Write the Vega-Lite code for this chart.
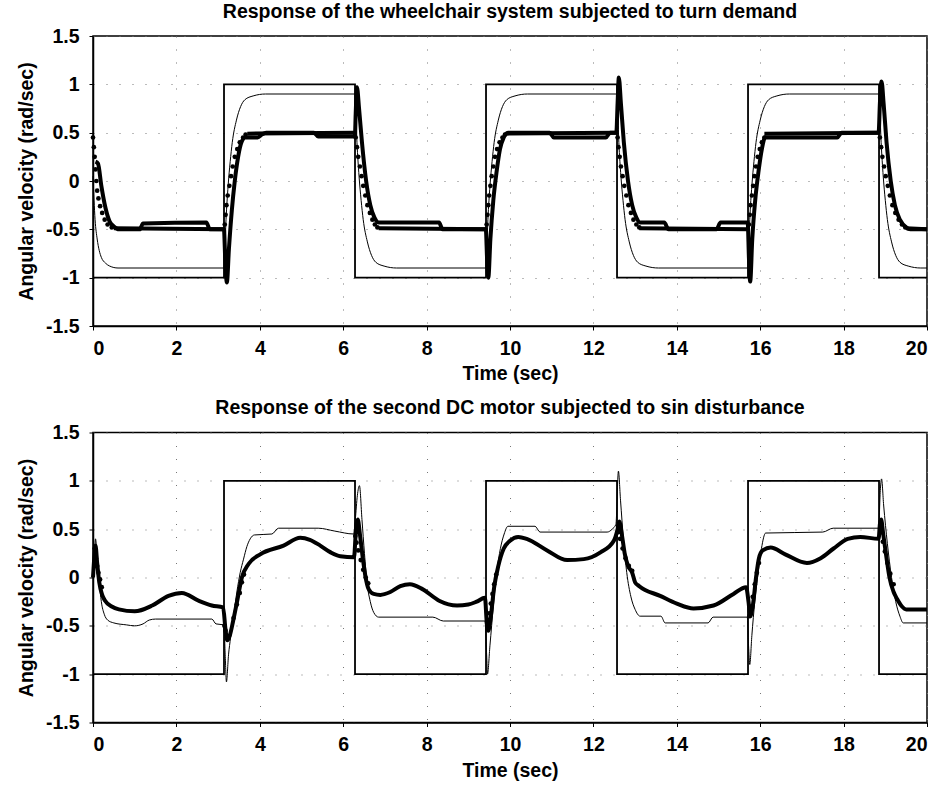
{
  "$schema": "https://vega.github.io/schema/vega-lite/v6.json",
  "padding": {"left": 15, "top": 0, "right": 4, "bottom": 0},
  "background": "white",
  "config": {
    "font": "Liberation Sans",
    "view": {"stroke": "black", "strokeWidth": 1.5},
    "axis": {"labelFont": "Liberation Sans", "labelFontWeight": "bold", "labelFontSize": 19.5, "labelColor": "black", "titleFont": "Liberation Sans", "titleFontWeight": "bold", "titleFontSize": 19.5, "titleColor": "black", "domainColor": "black", "domainWidth": 1.5, "tickColor": "black", "tickSize": 4, "tickWidth": 1, "gridColor": "#777777", "gridDash": [1, 12], "gridWidth": 1},
    "title": {"font": "Liberation Sans", "fontWeight": "bold", "fontSize": 19.5, "color": "black", "offset": 4},
    "concat": {"spacing": 12.5}
  },
  "datasets": {
    "sq": [{"t":0,"v":-1},{"t":3.1416,"v":-1},{"t":3.1417,"v":1},{"t":6.2832,"v":1},{"t":6.2833,"v":-1},{"t":9.4248,"v":-1},{"t":9.4249,"v":1},{"t":12.5664,"v":1},{"t":12.5665,"v":-1},{"t":15.708,"v":-1},{"t":15.7081,"v":1},{"t":18.8496,"v":1},{"t":18.8497,"v":-1},{"t":20,"v":-1}],
    "top_thin": [{"t":0,"v":0.05},{"t":0.05,"v":-0.4},{"t":0.1,"v":-0.6},{"t":0.15,"v":-0.72},{"t":0.2,"v":-0.79},{"t":0.3,"v":-0.85},{"t":0.4,"v":-0.88},{"t":0.6,"v":-0.9},{"t":3.1416,"v":-0.9},
      {"t":3.19,"v":-0.4},{"t":3.24,"v":-0.05},{"t":3.29,"v":0.2},{"t":3.34,"v":0.4},{"t":3.44,"v":0.63},{"t":3.54,"v":0.77},{"t":3.64,"v":0.84},{"t":3.84,"v":0.88},{"t":4.14,"v":0.9},{"t":6.2832,"v":0.9},
      {"t":6.33,"v":0.4},{"t":6.38,"v":0.05},{"t":6.43,"v":-0.2},{"t":6.48,"v":-0.4},{"t":6.58,"v":-0.63},{"t":6.68,"v":-0.77},{"t":6.78,"v":-0.84},{"t":6.98,"v":-0.88},{"t":7.28,"v":-0.9},{"t":9.4248,"v":-0.9},
      {"t":9.47,"v":-0.4},{"t":9.52,"v":-0.05},{"t":9.57,"v":0.2},{"t":9.62,"v":0.4},{"t":9.72,"v":0.63},{"t":9.82,"v":0.77},{"t":9.92,"v":0.84},{"t":10.12,"v":0.88},{"t":10.42,"v":0.9},{"t":12.5664,"v":0.9},
      {"t":12.61,"v":0.4},{"t":12.66,"v":0.05},{"t":12.71,"v":-0.2},{"t":12.76,"v":-0.4},{"t":12.86,"v":-0.63},{"t":12.96,"v":-0.77},{"t":13.06,"v":-0.84},{"t":13.26,"v":-0.88},{"t":13.56,"v":-0.9},{"t":15.708,"v":-0.9},
      {"t":15.75,"v":-0.4},{"t":15.8,"v":-0.05},{"t":15.85,"v":0.2},{"t":15.9,"v":0.4},{"t":16.0,"v":0.63},{"t":16.1,"v":0.77},{"t":16.2,"v":0.84},{"t":16.4,"v":0.88},{"t":16.7,"v":0.9},{"t":18.8496,"v":0.9},
      {"t":18.9,"v":0.4},{"t":18.95,"v":0.05},{"t":19.0,"v":-0.2},{"t":19.05,"v":-0.4},{"t":19.15,"v":-0.63},{"t":19.25,"v":-0.77},{"t":19.35,"v":-0.84},{"t":19.55,"v":-0.88},{"t":19.85,"v":-0.9},{"t":20,"v":-0.9}],
    "top_thickA": [{"t":0.06,"v":0.2},{"t":0.12,"v":0.18},{"t":0.2,"v":-0.05},{"t":0.3,"v":-0.28},{"t":0.4,"v":-0.42},{"t":0.5,"v":-0.47},{"t":0.62,"v":-0.5},{"t":1.12,"v":-0.5},{"t":1.2,"v":-0.44},{"t":2.72,"v":-0.43},{"t":2.8,"v":-0.5},{"t":3.14,"v":-0.5},
      {"t":3.17,"v":-0.8},{"t":3.21,"v":-1.05},{"t":3.26,"v":-0.7},{"t":3.33,"v":-0.3},{"t":3.4,"v":0.0},{"t":3.48,"v":0.25},{"t":3.56,"v":0.4},{"t":3.65,"v":0.45},{"t":3.95,"v":0.45},{"t":4.05,"v":0.48},{"t":4.15,"v":0.5},{"t":5.3,"v":0.5},{"t":5.4,"v":0.46},{"t":6.28,"v":0.46},
      {"t":6.3,"v":0.7},{"t":6.33,"v":0.97},{"t":6.38,"v":0.75},{"t":6.45,"v":0.4},{"t":6.55,"v":0.0},{"t":6.65,"v":-0.25},{"t":6.75,"v":-0.38},{"t":6.85,"v":-0.43},{"t":8.3,"v":-0.43},{"t":8.38,"v":-0.5},{"t":9.42,"v":-0.5},
      {"t":9.45,"v":-0.8},{"t":9.48,"v":-1.0},{"t":9.53,"v":-0.6},{"t":9.6,"v":-0.2},{"t":9.68,"v":0.1},{"t":9.76,"v":0.33},{"t":9.85,"v":0.45},{"t":9.95,"v":0.5},{"t":10.95,"v":0.5},{"t":11.05,"v":0.45},{"t":12.3,"v":0.45},{"t":12.4,"v":0.5},{"t":12.55,"v":0.5},
      {"t":12.58,"v":0.8},{"t":12.61,"v":1.07},{"t":12.66,"v":0.8},{"t":12.73,"v":0.4},{"t":12.83,"v":0.0},{"t":12.93,"v":-0.25},{"t":13.03,"v":-0.38},{"t":13.12,"v":-0.43},{"t":13.7,"v":-0.43},{"t":13.8,"v":-0.5},{"t":14.95,"v":-0.5},{"t":15.05,"v":-0.43},{"t":15.7,"v":-0.43},
      {"t":15.73,"v":-0.8},{"t":15.76,"v":-1.04},{"t":15.81,"v":-0.6},{"t":15.88,"v":-0.2},{"t":15.96,"v":0.1},{"t":16.04,"v":0.33},{"t":16.12,"v":0.45},{"t":17.85,"v":0.45},{"t":17.95,"v":0.5},{"t":18.84,"v":0.5},
      {"t":18.87,"v":0.8},{"t":18.91,"v":1.03},{"t":18.96,"v":0.8},{"t":19.03,"v":0.4},{"t":19.13,"v":0.0},{"t":19.23,"v":-0.25},{"t":19.35,"v":-0.4},{"t":19.5,"v":-0.48},{"t":19.6,"v":-0.5},{"t":20,"v":-0.5}],
    "top_thickB": [{"t":0.5,"v":-0.49,"g":1},{"t":3.16,"v":-0.5,"g":1},{"t":3.7,"v":0.49,"g":2},{"t":6.3,"v":0.5,"g":2},{"t":6.85,"v":-0.49,"g":3},{"t":9.44,"v":-0.5,"g":3},{"t":9.9,"v":0.49,"g":4},{"t":12.58,"v":0.5,"g":4},{"t":13.1,"v":-0.49,"g":5},{"t":15.72,"v":-0.5,"g":5},{"t":16.1,"v":0.49,"g":6},{"t":18.86,"v":0.5,"g":6},{"t":19.5,"v":-0.49,"g":7},{"t":20,"v":-0.5,"g":7}],
    "top_dots": [{"t":0.0,"v":0.45},{"t":0.02,"v":0.35},{"t":0.04,"v":0.25},{"t":0.06,"v":0.12},{"t":0.08,"v":0.0},{"t":0.1,"v":-0.1},{"t":0.13,"v":-0.18},{"t":0.17,"v":-0.26},{"t":0.22,"v":-0.33},{"t":0.28,"v":-0.4},{"t":0.35,"v":-0.45},{"t":0.45,"v":-0.48},
      {"t":3.16,"v":-0.45},{"t":3.18,"v":-0.35},{"t":3.2,"v":-0.25},{"t":3.23,"v":-0.15},{"t":3.27,"v":-0.05},{"t":3.31,"v":0.05},{"t":3.35,"v":0.15},{"t":3.4,"v":0.25},{"t":3.46,"v":0.33},{"t":3.52,"v":0.4},{"t":3.6,"v":0.45},{"t":3.66,"v":0.48},
      {"t":6.3,"v":0.45},{"t":6.33,"v":0.35},{"t":6.36,"v":0.25},{"t":6.4,"v":0.15},{"t":6.44,"v":0.05},{"t":6.48,"v":-0.05},{"t":6.53,"v":-0.15},{"t":6.58,"v":-0.25},{"t":6.64,"v":-0.33},{"t":6.7,"v":-0.4},{"t":6.76,"v":-0.45},{"t":6.82,"v":-0.48},
      {"t":9.44,"v":-0.45},{"t":9.46,"v":-0.35},{"t":9.48,"v":-0.25},{"t":9.5,"v":-0.15},{"t":9.53,"v":-0.05},{"t":9.56,"v":0.05},{"t":9.6,"v":0.15},{"t":9.64,"v":0.25},{"t":9.69,"v":0.33},{"t":9.75,"v":0.4},{"t":9.82,"v":0.45},{"t":9.88,"v":0.48},
      {"t":12.58,"v":0.45},{"t":12.6,"v":0.35},{"t":12.63,"v":0.25},{"t":12.66,"v":0.15},{"t":12.7,"v":0.05},{"t":12.74,"v":-0.05},{"t":12.79,"v":-0.15},{"t":12.84,"v":-0.25},{"t":12.9,"v":-0.33},{"t":12.96,"v":-0.4},{"t":13.03,"v":-0.45},{"t":13.1,"v":-0.48},
      {"t":15.73,"v":-0.45},{"t":15.75,"v":-0.35},{"t":15.77,"v":-0.25},{"t":15.8,"v":-0.15},{"t":15.83,"v":-0.05},{"t":15.86,"v":0.05},{"t":15.9,"v":0.15},{"t":15.94,"v":0.25},{"t":15.99,"v":0.33},{"t":16.04,"v":0.4},{"t":16.1,"v":0.45},
      {"t":18.87,"v":0.45},{"t":18.9,"v":0.35},{"t":18.93,"v":0.25},{"t":18.97,"v":0.15},{"t":19.01,"v":0.05},{"t":19.06,"v":-0.05},{"t":19.11,"v":-0.15},{"t":19.17,"v":-0.25},{"t":19.24,"v":-0.33},{"t":19.32,"v":-0.4},{"t":19.4,"v":-0.45},{"t":19.48,"v":-0.48}],
    "bot_thin": [{"t":0,"v":0.0},{"t":0.03,"v":0.2},{"t":0.06,"v":0.4},{"t":0.1,"v":0.2},{"t":0.15,"v":-0.05},{"t":0.2,"v":-0.25},{"t":0.27,"v":-0.38},{"t":0.35,"v":-0.44},{"t":0.5,"v":-0.47},{"t":0.8,"v":-0.49},{"t":1.0,"v":-0.5},{"t":1.2,"v":-0.48},{"t":1.35,"v":-0.44},{"t":1.5,"v":-0.43},{"t":2.85,"v":-0.43},{"t":2.95,"v":-0.48},{"t":3.14,"v":-0.49},
      {"t":3.17,"v":-0.8},{"t":3.2,"v":-1.08},{"t":3.25,"v":-0.8},{"t":3.3,"v":-0.62},{"t":3.37,"v":-0.4},{"t":3.45,"v":-0.15},{"t":3.53,"v":0.05},{"t":3.61,"v":0.19},{"t":3.69,"v":0.32},{"t":3.77,"v":0.4},{"t":3.87,"v":0.44},{"t":4.29,"v":0.45},{"t":4.45,"v":0.51},{"t":5.4,"v":0.51},{"t":5.8,"v":0.48},{"t":6.25,"v":0.45},
      {"t":6.29,"v":0.6},{"t":6.34,"v":0.85},{"t":6.39,"v":0.95},{"t":6.45,"v":0.6},{"t":6.51,"v":0.25},{"t":6.57,"v":-0.05},{"t":6.65,"v":-0.25},{"t":6.73,"v":-0.36},{"t":6.85,"v":-0.41},{"t":8.15,"v":-0.41},{"t":8.4,"v":-0.45},{"t":9.4,"v":-0.45},
      {"t":9.44,"v":-0.8},{"t":9.46,"v":-1.0},{"t":9.52,"v":-0.7},{"t":9.6,"v":-0.3},{"t":9.68,"v":0.05},{"t":9.77,"v":0.3},{"t":9.86,"v":0.45},{"t":9.95,"v":0.53},{"t":10.6,"v":0.53},{"t":10.72,"v":0.47},{"t":12.33,"v":0.47},{"t":12.45,"v":0.5},{"t":12.54,"v":0.55},
      {"t":12.6,"v":1.1},{"t":12.65,"v":0.8},{"t":12.72,"v":0.4},{"t":12.8,"v":0.05},{"t":12.9,"v":-0.2},{"t":13.0,"v":-0.33},{"t":13.12,"v":-0.4},{"t":13.62,"v":-0.4},{"t":13.72,"v":-0.47},{"t":14.75,"v":-0.47},{"t":14.87,"v":-0.41},{"t":15.69,"v":-0.41},
      {"t":15.72,"v":-0.7},{"t":15.75,"v":-0.9},{"t":15.8,"v":-0.6},{"t":15.87,"v":-0.25},{"t":15.95,"v":0.05},{"t":16.03,"v":0.3},{"t":16.13,"v":0.46},{"t":17.5,"v":0.47},{"t":17.75,"v":0.51},{"t":18.84,"v":0.51},
      {"t":18.88,"v":0.9},{"t":18.91,"v":1.02},{"t":18.96,"v":0.75},{"t":19.05,"v":0.35},{"t":19.15,"v":0.0},{"t":19.25,"v":-0.25},{"t":19.35,"v":-0.4},{"t":19.43,"v":-0.47},{"t":20,"v":-0.47}],
    "bot_thick": [{"t":0.0,"v":0.0},{"t":0.03,"v":0.2},{"t":0.06,"v":0.33},{"t":0.1,"v":0.15},{"t":0.15,"v":-0.05},{"t":0.22,"v":-0.18},{"t":0.29,"v":-0.24},{"t":0.45,"v":-0.3},{"t":0.62,"v":-0.33},{"t":1.0,"v":-0.35},{"t":1.42,"v":-0.29},{"t":1.81,"v":-0.19},{"t":2.13,"v":-0.16},{"t":2.53,"v":-0.24},{"t":2.85,"v":-0.29},{"t":3.12,"v":-0.31},
      {"t":3.18,"v":-0.55},{"t":3.22,"v":-0.65},{"t":3.28,"v":-0.6},{"t":3.36,"v":-0.45},{"t":3.45,"v":-0.26},{"t":3.57,"v":0.0},{"t":3.73,"v":0.14},{"t":4.01,"v":0.24},{"t":4.57,"v":0.33},{"t":4.97,"v":0.41},{"t":5.2,"v":0.39},{"t":5.45,"v":0.33},{"t":5.7,"v":0.26},{"t":5.93,"v":0.22},{"t":6.26,"v":0.21},
      {"t":6.3,"v":0.45},{"t":6.35,"v":0.6},{"t":6.4,"v":0.45},{"t":6.47,"v":0.2},{"t":6.53,"v":0.02},{"t":6.61,"v":-0.12},{"t":6.73,"v":-0.17},{"t":6.89,"v":-0.18},{"t":7.13,"v":-0.15},{"t":7.37,"v":-0.09},{"t":7.6,"v":-0.07},{"t":7.9,"v":-0.12},{"t":8.3,"v":-0.24},{"t":8.73,"v":-0.29},{"t":9.0,"v":-0.28},{"t":9.2,"v":-0.25},{"t":9.4,"v":-0.21},
      {"t":9.44,"v":-0.45},{"t":9.48,"v":-0.55},{"t":9.54,"v":-0.4},{"t":9.62,"v":-0.1},{"t":9.72,"v":0.12},{"t":9.85,"v":0.3},{"t":10.0,"v":0.38},{"t":10.2,"v":0.42},{"t":10.4,"v":0.4},{"t":10.89,"v":0.28},{"t":11.37,"v":0.18},{"t":11.77,"v":0.19},{"t":12.17,"v":0.26},{"t":12.49,"v":0.38},
      {"t":12.58,"v":0.5},{"t":12.62,"v":0.58},{"t":12.68,"v":0.45},{"t":12.75,"v":0.25},{"t":12.83,"v":0.12},{"t":12.93,"v":0.05},{"t":13.0,"v":-0.05},{"t":13.1,"v":-0.09},{"t":13.6,"v":-0.19},{"t":14.0,"v":-0.27},{"t":14.4,"v":-0.32},{"t":14.88,"v":-0.29},{"t":15.36,"v":-0.17},{"t":15.66,"v":-0.1},
      {"t":15.72,"v":-0.25},{"t":15.76,"v":-0.4},{"t":15.82,"v":-0.3},{"t":15.9,"v":0.0},{"t":15.97,"v":0.2},{"t":16.06,"v":0.28},{"t":16.25,"v":0.31},{"t":16.6,"v":0.24},{"t":17.12,"v":0.15},{"t":17.45,"v":0.2},{"t":17.76,"v":0.3},{"t":18.1,"v":0.4},{"t":18.4,"v":0.42},{"t":18.84,"v":0.4},
      {"t":18.87,"v":0.55},{"t":18.9,"v":0.6},{"t":18.95,"v":0.45},{"t":19.03,"v":0.2},{"t":19.1,"v":0.0},{"t":19.2,"v":-0.15},{"t":19.28,"v":-0.22},{"t":19.4,"v":-0.3},{"t":19.5,"v":-0.33},{"t":20,"v":-0.33}],
    "bot_dots": [{"t":0.04,"v":0.3},{"t":0.07,"v":0.2},{"t":0.1,"v":0.12},{"t":0.13,"v":0.05},{"t":0.17,"v":-0.02},{"t":0.21,"v":-0.1},
      {"t":3.15,"v":-0.5},{"t":3.18,"v":-0.55},{"t":3.37,"v":-0.42},{"t":3.45,"v":-0.28},{"t":3.52,"v":-0.16},{"t":3.57,"v":-0.05},{"t":3.62,"v":0.03},
      {"t":6.29,"v":0.43},{"t":6.32,"v":0.36},{"t":6.36,"v":0.28},{"t":6.42,"v":0.18},{"t":6.48,"v":0.08},{"t":6.54,"v":0.0},{"t":6.6,"v":-0.06},
      {"t":9.46,"v":-0.45},{"t":9.5,"v":-0.37},{"t":9.54,"v":-0.27},{"t":9.58,"v":-0.17},{"t":9.62,"v":-0.07},{"t":9.67,"v":0.03},
      {"t":12.6,"v":0.47},{"t":12.64,"v":0.4},{"t":12.7,"v":0.3},{"t":12.77,"v":0.2},{"t":12.85,"v":0.12},{"t":12.93,"v":0.07},
      {"t":15.74,"v":-0.4},{"t":15.78,"v":-0.3},{"t":15.82,"v":-0.2},{"t":15.87,"v":-0.07},{"t":15.92,"v":0.05},{"t":15.97,"v":0.15},
      {"t":18.9,"v":0.47},{"t":18.94,"v":0.37},{"t":18.99,"v":0.27},{"t":19.05,"v":0.15},{"t":19.12,"v":0.04},{"t":19.2,"v":-0.07}]
  },
  "vconcat": [
    {
      "title": "Response of the wheelchair system subjected to turn demand",
      "width": 834, "height": 290,
      "layer": [
        {"data": {"name": "sq"}, "mark": {"type": "line", "color": "black", "strokeWidth": 1.8},
         "encoding": {
           "x": {"field": "t", "type": "quantitative", "scale": {"domain": [0, 20], "nice": false}, "axis": {"values": [0,2,4,6,8,10,12,14,16,18,20], "title": "Time (sec)", "labelPadding": 9, "titlePadding": 7}},
           "y": {"field": "v", "type": "quantitative", "scale": {"domain": [-1.5, 1.5], "nice": false}, "axis": {"values": [-1.5,-1,-0.5,0,0.5,1,1.5], "labelExpr": "'' + datum.value", "title": "Angular velocity (rad/sec)", "labelPadding": 10, "titlePadding": 9}}}},
        {"data": {"name": "top_thin"}, "mark": {"type": "line", "color": "black", "strokeWidth": 1, "interpolate": "monotone"}, "encoding": {"x": {"field": "t", "type": "quantitative"}, "y": {"field": "v", "type": "quantitative"}}},
        {"data": {"name": "top_thickB"}, "mark": {"type": "line", "color": "black", "strokeWidth": 4}, "encoding": {"x": {"field": "t", "type": "quantitative"}, "y": {"field": "v", "type": "quantitative"}, "detail": {"field": "g", "type": "nominal"}}},
        {"data": {"name": "top_thickA"}, "mark": {"type": "line", "color": "black", "strokeWidth": 4, "interpolate": "monotone"}, "encoding": {"x": {"field": "t", "type": "quantitative"}, "y": {"field": "v", "type": "quantitative"}}},
        {"data": {"name": "top_dots"}, "mark": {"type": "point", "filled": true, "color": "black", "size": 22, "opacity": 1}, "encoding": {"x": {"field": "t", "type": "quantitative"}, "y": {"field": "v", "type": "quantitative"}}}
      ]
    },
    {
      "title": "Response of the second DC motor subjected to sin disturbance",
      "width": 834, "height": 290,
      "layer": [
        {"data": {"name": "sq"}, "mark": {"type": "line", "color": "black", "strokeWidth": 1.8},
         "encoding": {
           "x": {"field": "t", "type": "quantitative", "scale": {"domain": [0, 20], "nice": false}, "axis": {"values": [0,2,4,6,8,10,12,14,16,18,20], "title": "Time (sec)", "labelPadding": 9, "titlePadding": 7}},
           "y": {"field": "v", "type": "quantitative", "scale": {"domain": [-1.5, 1.5], "nice": false}, "axis": {"values": [-1.5,-1,-0.5,0,0.5,1,1.5], "labelExpr": "'' + datum.value", "title": "Angular velocity (rad/sec)", "labelPadding": 10, "titlePadding": 9}}}},
        {"data": {"name": "bot_thin"}, "mark": {"type": "line", "color": "black", "strokeWidth": 1, "interpolate": "monotone"}, "encoding": {"x": {"field": "t", "type": "quantitative"}, "y": {"field": "v", "type": "quantitative"}}},
        {"data": {"name": "bot_thick"}, "mark": {"type": "line", "color": "black", "strokeWidth": 4, "interpolate": "monotone"}, "encoding": {"x": {"field": "t", "type": "quantitative"}, "y": {"field": "v", "type": "quantitative"}}},
        {"data": {"name": "bot_dots"}, "mark": {"type": "point", "filled": true, "color": "black", "size": 22, "opacity": 1}, "encoding": {"x": {"field": "t", "type": "quantitative"}, "y": {"field": "v", "type": "quantitative"}}}
      ]
    }
  ]
}
